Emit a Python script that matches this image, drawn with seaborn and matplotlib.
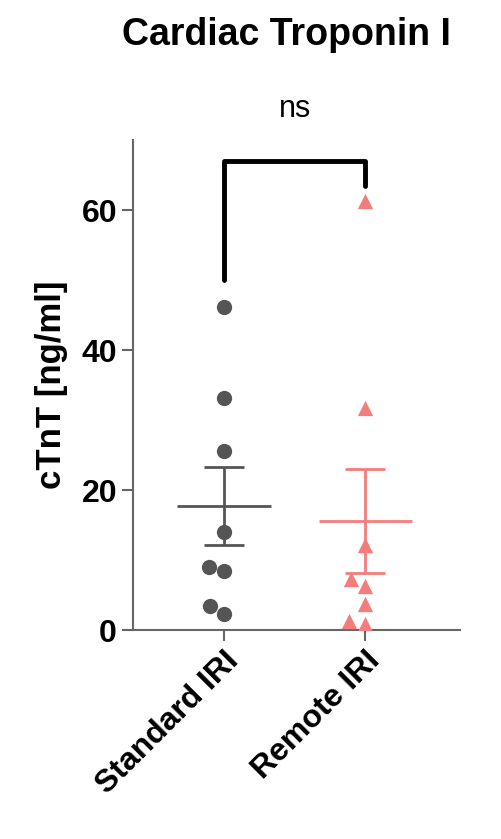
import numpy as np
import pandas as pd
import matplotlib.pyplot as plt
import seaborn as sns

groups = ["Standard IRI", "Remote IRI"]
standard_vals = [46.1, 33.1, 25.6, 14.0, 9.0, 8.4, 3.4, 2.3]
remote_vals = [61.3, 31.7, 12.1, 7.3, 6.3, 3.7, 1.3, 0.9]
colors = ["#555555", "#f47c7c"]
markers = ["o", "^"]

df = pd.DataFrame({
    "group": [groups[0]] * len(standard_vals) + [groups[1]] * len(remote_vals),
    "cTnT": standard_vals + remote_vals,
})

sns.set_style("ticks")
plt.rcParams["font.family"] = ["Liberation Sans", "DejaVu Sans"]
plt.rcParams["text.color"] = "black"
plt.rcParams["axes.labelcolor"] = "black"
plt.rcParams["xtick.labelcolor"] = "black"
plt.rcParams["ytick.labelcolor"] = "black"

fig = plt.figure(figsize=(5.02, 8.39), dpi=100)
ax = fig.add_axes([0.265, 0.249, 0.651, 0.584])

for i, g in enumerate(groups):
    sub = df[df["group"] == g].copy()
    sns.swarmplot(data=sub, x="group", y="cTnT", order=groups, color=colors[i],
                  marker=markers[i], size=11, ax=ax, linewidth=0)
    v = np.array(sub["cTnT"])
    m = v.mean()
    sem = v.std(ddof=1) / np.sqrt(len(v))
    ax.hlines(m, i - 0.33, i + 0.33, color=colors[i], lw=2)
    ax.vlines(i, m - sem, m + sem, color=colors[i], lw=2)
    ax.hlines([m - sem, m + sem], i - 0.14, i + 0.14, color=colors[i], lw=2)

# significance bracket
ax.plot([0, 0, 1, 1], [50, 67, 67, 63.5], color="black", lw=3.5, clip_on=False)
ax.text(0.5, 74.5, "ns", ha="center", va="center", fontsize=22)

ax.set_xlim(-0.645, 1.67)
ax.set_ylim(0, 70)
ax.set_yticks([0, 20, 40, 60])
ax.set_xlabel("")
ax.set_ylabel("cTnT [ng/ml]", fontsize=25, fontweight="bold", labelpad=10)
ax.set_xticks([0, 1])
ax.set_xticklabels(groups, rotation=45, ha="right", rotation_mode="anchor",
                   fontsize=23, fontweight="bold")
for t in ax.get_yticklabels():
    t.set_fontsize(23)
    t.set_fontweight("bold")
for s in ["left", "bottom"]:
    ax.spines[s].set_linewidth(1.5)
    ax.spines[s].set_color("#666666")
sns.despine(ax=ax)
ax.tick_params(axis="both", width=1.5, length=8, color="#666666")
fig.text(0.57, 0.958, "Cardiac Troponin I", ha="center", va="center",
         fontsize=27, fontweight="bold")

fig.savefig("out.png", dpi=100)
